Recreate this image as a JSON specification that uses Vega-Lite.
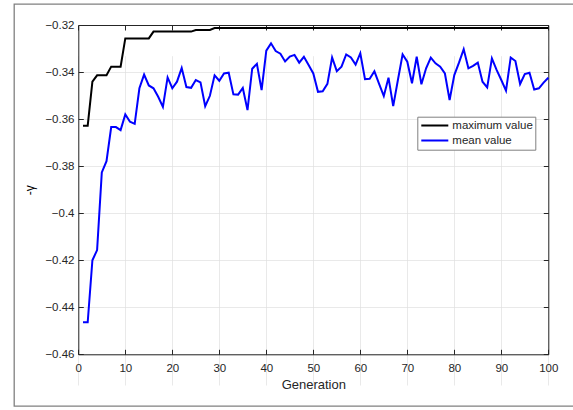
{
  "$schema": "https://vega.github.io/schema/vega-lite/v6.json",
  "width": 562,
  "height": 402,
  "autosize": {"type": "none"},
  "padding": {"left": 14, "top": 4, "right": -3, "bottom": 4},
  "background": "white",
  "config": {
    "view": {"stroke": "#808080", "strokeWidth": 1.3},
    "font": "Liberation Sans"
  },
  "data": {"values": [
    {"g":1,"maximum value":-0.3628,"mean value":-0.4464},
    {"g":2,"maximum value":-0.3628,"mean value":-0.4464},
    {"g":3,"maximum value":-0.3441,"mean value":-0.4200},
    {"g":4,"maximum value":-0.3414,"mean value":-0.4157},
    {"g":5,"maximum value":-0.3414,"mean value":-0.3827},
    {"g":6,"maximum value":-0.3414,"mean value":-0.3779},
    {"g":7,"maximum value":-0.3377,"mean value":-0.3634},
    {"g":8,"maximum value":-0.3377,"mean value":-0.3634},
    {"g":9,"maximum value":-0.3377,"mean value":-0.3647},
    {"g":10,"maximum value":-0.3257,"mean value":-0.3580},
    {"g":11,"maximum value":-0.3257,"mean value":-0.3611},
    {"g":12,"maximum value":-0.3257,"mean value":-0.3620},
    {"g":13,"maximum value":-0.3257,"mean value":-0.3469},
    {"g":14,"maximum value":-0.3257,"mean value":-0.3411},
    {"g":15,"maximum value":-0.3257,"mean value":-0.3457},
    {"g":16,"maximum value":-0.3228,"mean value":-0.3469},
    {"g":17,"maximum value":-0.3228,"mean value":-0.3505},
    {"g":18,"maximum value":-0.3228,"mean value":-0.3548},
    {"g":19,"maximum value":-0.3228,"mean value":-0.3423},
    {"g":20,"maximum value":-0.3228,"mean value":-0.3469},
    {"g":21,"maximum value":-0.3228,"mean value":-0.3441},
    {"g":22,"maximum value":-0.3228,"mean value":-0.3383},
    {"g":23,"maximum value":-0.3228,"mean value":-0.3464},
    {"g":24,"maximum value":-0.3228,"mean value":-0.3467},
    {"g":25,"maximum value":-0.3221,"mean value":-0.3434},
    {"g":26,"maximum value":-0.3221,"mean value":-0.3444},
    {"g":27,"maximum value":-0.3221,"mean value":-0.3545},
    {"g":28,"maximum value":-0.3221,"mean value":-0.3501},
    {"g":29,"maximum value":-0.3213,"mean value":-0.3414},
    {"g":30,"maximum value":-0.3213,"mean value":-0.3437},
    {"g":31,"maximum value":-0.3213,"mean value":-0.3406},
    {"g":32,"maximum value":-0.3213,"mean value":-0.3403},
    {"g":33,"maximum value":-0.3213,"mean value":-0.3495},
    {"g":34,"maximum value":-0.3213,"mean value":-0.3496},
    {"g":35,"maximum value":-0.3213,"mean value":-0.3468},
    {"g":36,"maximum value":-0.3213,"mean value":-0.3562},
    {"g":37,"maximum value":-0.3213,"mean value":-0.3386},
    {"g":38,"maximum value":-0.3213,"mean value":-0.3365},
    {"g":39,"maximum value":-0.3213,"mean value":-0.3477},
    {"g":40,"maximum value":-0.3213,"mean value":-0.3309},
    {"g":41,"maximum value":-0.3213,"mean value":-0.3278},
    {"g":42,"maximum value":-0.3213,"mean value":-0.3311},
    {"g":43,"maximum value":-0.3213,"mean value":-0.3322},
    {"g":44,"maximum value":-0.3213,"mean value":-0.3355},
    {"g":45,"maximum value":-0.3213,"mean value":-0.3334},
    {"g":46,"maximum value":-0.3213,"mean value":-0.3327},
    {"g":47,"maximum value":-0.3213,"mean value":-0.3360},
    {"g":48,"maximum value":-0.3213,"mean value":-0.3335},
    {"g":49,"maximum value":-0.3213,"mean value":-0.3370},
    {"g":50,"maximum value":-0.3213,"mean value":-0.3406},
    {"g":51,"maximum value":-0.3213,"mean value":-0.3484},
    {"g":52,"maximum value":-0.3213,"mean value":-0.3482},
    {"g":53,"maximum value":-0.3213,"mean value":-0.3450},
    {"g":54,"maximum value":-0.3213,"mean value":-0.3338},
    {"g":55,"maximum value":-0.3213,"mean value":-0.3396},
    {"g":56,"maximum value":-0.3213,"mean value":-0.3377},
    {"g":57,"maximum value":-0.3213,"mean value":-0.3325},
    {"g":58,"maximum value":-0.3213,"mean value":-0.3338},
    {"g":59,"maximum value":-0.3213,"mean value":-0.3368},
    {"g":60,"maximum value":-0.3213,"mean value":-0.3320},
    {"g":61,"maximum value":-0.3213,"mean value":-0.3430},
    {"g":62,"maximum value":-0.3213,"mean value":-0.3429},
    {"g":63,"maximum value":-0.3213,"mean value":-0.3397},
    {"g":64,"maximum value":-0.3213,"mean value":-0.3450},
    {"g":65,"maximum value":-0.3213,"mean value":-0.3502},
    {"g":66,"maximum value":-0.3213,"mean value":-0.3424},
    {"g":67,"maximum value":-0.3213,"mean value":-0.3545},
    {"g":68,"maximum value":-0.3213,"mean value":-0.3434},
    {"g":69,"maximum value":-0.3213,"mean value":-0.3325},
    {"g":70,"maximum value":-0.3213,"mean value":-0.3356},
    {"g":71,"maximum value":-0.3213,"mean value":-0.3448},
    {"g":72,"maximum value":-0.3213,"mean value":-0.3335},
    {"g":73,"maximum value":-0.3213,"mean value":-0.3452},
    {"g":74,"maximum value":-0.3213,"mean value":-0.3384},
    {"g":75,"maximum value":-0.3213,"mean value":-0.3339},
    {"g":76,"maximum value":-0.3213,"mean value":-0.3363},
    {"g":77,"maximum value":-0.3213,"mean value":-0.3377},
    {"g":78,"maximum value":-0.3213,"mean value":-0.3406},
    {"g":79,"maximum value":-0.3213,"mean value":-0.3519},
    {"g":80,"maximum value":-0.3213,"mean value":-0.3413},
    {"g":81,"maximum value":-0.3213,"mean value":-0.3360},
    {"g":82,"maximum value":-0.3213,"mean value":-0.3303},
    {"g":83,"maximum value":-0.3213,"mean value":-0.3384},
    {"g":84,"maximum value":-0.3213,"mean value":-0.3374},
    {"g":85,"maximum value":-0.3213,"mean value":-0.3360},
    {"g":86,"maximum value":-0.3213,"mean value":-0.3441},
    {"g":87,"maximum value":-0.3213,"mean value":-0.3465},
    {"g":88,"maximum value":-0.3213,"mean value":-0.3342},
    {"g":89,"maximum value":-0.3213,"mean value":-0.3391},
    {"g":90,"maximum value":-0.3213,"mean value":-0.3434},
    {"g":91,"maximum value":-0.3213,"mean value":-0.3479},
    {"g":92,"maximum value":-0.3213,"mean value":-0.3338},
    {"g":93,"maximum value":-0.3213,"mean value":-0.3353},
    {"g":94,"maximum value":-0.3213,"mean value":-0.3451},
    {"g":95,"maximum value":-0.3213,"mean value":-0.3409},
    {"g":96,"maximum value":-0.3213,"mean value":-0.3403},
    {"g":97,"maximum value":-0.3213,"mean value":-0.3474},
    {"g":98,"maximum value":-0.3213,"mean value":-0.3469},
    {"g":99,"maximum value":-0.3213,"mean value":-0.3445},
    {"g":100,"maximum value":-0.3213,"mean value":-0.3424}
  ]},
  "transform": [{"fold": ["maximum value", "mean value"], "as": ["series", "value"]}],
  "resolve": {"axis": {"x": "independent", "y": "independent"}},
  "layer": [
    {
      "mark": {"type": "line", "strokeWidth": 2},
      "encoding": {
        "x": {
          "field": "g", "type": "quantitative",
          "scale": {"domain": [0, 100], "range": [64.3, 534.3], "nice": false, "zero": false},
          "axis": {
            "orient": "bottom", "offset": -51.7,
            "values": [0, 10, 20, 30, 40, 50, 60, 70, 80, 90, 100],
            "format": "d", "tickSize": -5, "tickColor": "#262626", "domainColor": "#262626",
            "labelFontSize": 11.5, "labelColor": "#262626", "labelPadding": 13.5,
            "labelFlush": false, "labelOverlap": false,
            "title": "Generation", "titleFontSize": 13, "titleFontWeight": "normal",
            "titleColor": "#262626", "titlePadding": 4,
            "grid": true, "gridColor": "#e0e0e0", "gridWidth": 0.7
          }
        },
        "y": {
          "field": "value", "type": "quantitative",
          "scale": {"domain": [-0.46, -0.32], "range": [350.3, 21], "nice": false, "zero": false},
          "axis": {
            "orient": "left", "offset": -64.3,
            "values": [-0.46, -0.44, -0.42, -0.4, -0.38, -0.36, -0.34, -0.32],
            "format": "~g", "tickSize": -5, "tickColor": "#262626", "domainColor": "#262626",
            "labelFontSize": 11.5, "labelColor": "#262626", "labelPadding": 9.3,
            "labelFlush": false, "labelOverlap": false,
            "title": "-γ", "titleFontSize": 12, "titleFontWeight": "normal",
            "titleColor": "#000000", "titlePadding": 8,
            "grid": true, "gridColor": "#e0e0e0", "gridWidth": 0.7
          }
        },
        "color": {
          "field": "series", "type": "nominal",
          "scale": {"domain": ["maximum value", "mean value"], "range": ["#000000", "#0000ff"]},
          "legend": {
            "orient": "none", "legendX": 403.3, "legendY": 112.7, "title": null,
            "symbolType": "stroke", "symbolSize": 729, "symbolStrokeWidth": 2,
            "clipHeight": 13.6, "rowPadding": 1, "padding": 2, "symbolOffset": 1,
            "labelOffset": 3, "labelFontSize": 11.5, "labelColor": "#262626",
            "labelFont": "Liberation Sans",
            "strokeColor": "#808080", "fillColor": "white"
          }
        }
      }
    },
    {
      "mark": {"type": "point", "opacity": 0},
      "encoding": {
        "x": {
          "field": "g", "type": "quantitative",
          "axis": {
            "orient": "top", "offset": -21, "values": [0, 10, 20, 30, 40, 50, 60, 70, 80, 90, 100],
            "labels": false, "tickSize": -5, "tickColor": "#262626", "domainColor": "#262626",
            "grid": false, "title": null
          }
        },
        "y": {
          "field": "value", "type": "quantitative",
          "axis": {
            "orient": "right", "offset": -27.7,
            "values": [-0.46, -0.44, -0.42, -0.4, -0.38, -0.36, -0.34, -0.32],
            "labels": false, "tickSize": -5, "tickColor": "#262626", "domainColor": "#262626",
            "grid": false, "title": null
          }
        }
      }
    }
  ]
}
